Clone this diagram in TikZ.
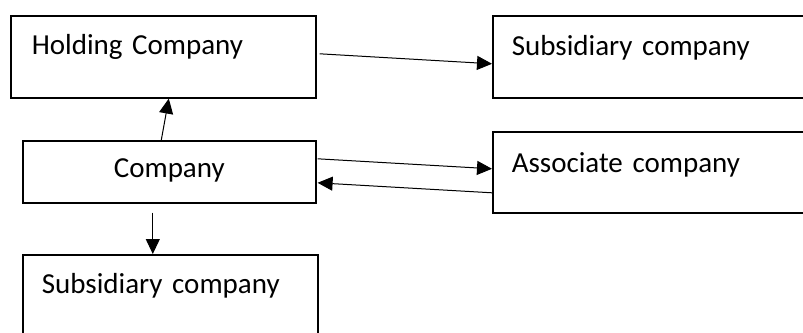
\documentclass[tikz,border=0pt]{standalone}
\usepackage{fontspec}
\setmainfont{Carlito}
\usetikzlibrary{arrows.meta}

\begin{document}
\begin{tikzpicture}[
  x=1pt, y=-1pt,
  box/.style={draw, line width=1.6pt, anchor=north west, inner ysep=0pt,
              align=left, font=\fontsize{29}{35}\selectfont},
  link/.style={-{Triangle[length=15pt, width=14pt]}, line width=1pt}
]
  \clip (0,0) rectangle (803,332);

  % Boxes
  \node[box, inner xsep=21pt, text width=263pt, text height=39pt, text depth=43pt]
    (hold) at (10,15) {Holding Company};
  \node[box, inner xsep=0pt, text width=293pt, align=center, text height=37pt, text depth=25pt]
    (comp) at (22,140) {Company};
  \node[box, inner xsep=19pt, text width=300pt, text height=40pt, text depth=42pt]
    (subtop) at (492,15) {Subsidiary company};
  \node[box, inner xsep=19pt, text width=300pt, text height=41pt, text depth=40pt]
    (assoc) at (492,131) {Associate company};
  \node[box, inner xsep=19pt, text width=257pt, text height=39pt, text depth=60pt]
    (subbot) at (22,254) {Subsidiary company};

  % Arrows
  \draw[link] ([xshift=3pt, yshift=3pt]hold.east) -- ([yshift=-7pt]subtop.west);
  \draw[link] ([xshift=-8pt]comp.north) -- ([xshift=5.5pt]hold.south);
  \draw[link] ([xshift=1pt, yshift=13pt]comp.east) -- ([yshift=3.5pt]assoc.west);
  \draw[link] ([yshift=-20.5pt]assoc.west) -- ([xshift=1pt, yshift=-11pt]comp.east);
  \draw[link] ([xshift=-16.5pt, yshift=-9pt]comp.south) -- ([xshift=-17.5pt]subbot.north);
\end{tikzpicture}
\end{document}
